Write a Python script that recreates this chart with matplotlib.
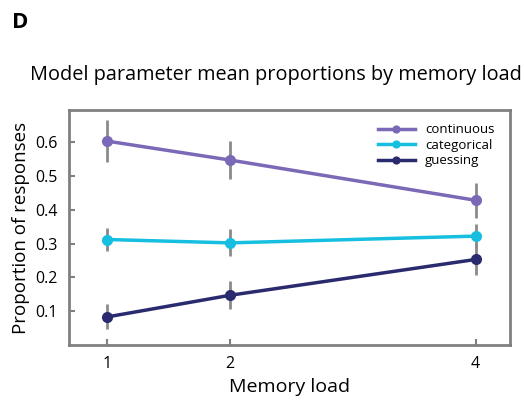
import matplotlib
matplotlib.use('Agg')
import matplotlib.pyplot as plt

# Data
loads = [1, 2, 4]
continuous = [0.603, 0.547, 0.428]
continuous_err = [0.062, 0.057, 0.052]
categorical = [0.312, 0.302, 0.322]
categorical_err = [0.035, 0.040, 0.035]
guessing = [0.083, 0.147, 0.253]
guessing_err = [0.037, 0.042, 0.045]

plt.rcParams['font.family'] = ['Open Sans', 'DejaVu Sans']

fig = plt.figure(figsize=(5.24, 4.05), dpi=100)
ax = fig.add_axes([69 / 524, 1 - 345 / 405, (510 - 69) / 524, (345 - 110) / 405])

series = [
    ('continuous', continuous, continuous_err, '#7b68b6'),
    ('categorical', categorical, categorical_err, '#16bfe0'),
    ('guessing', guessing, guessing_err, '#2a2a6e'),
]
for label, vals, errs, color in series:
    ax.errorbar(loads, vals, yerr=errs, fmt='none', ecolor='#8a8a8a', elinewidth=2,
                capsize=0, zorder=1)
    ax.plot(loads, vals, '-o', color=color, lw=2.5, ms=7, label=label, zorder=2)

ax.set_xlim(0.69, 4.28)
ax.set_ylim(0, 0.695)
ax.set_xticks(loads)
ax.set_xticklabels(['1', '2', '4'])
ax.set_yticks([0.1, 0.2, 0.3, 0.4, 0.5, 0.6])
ax.tick_params(direction='in', color='#808080', width=1.5, length=4, labelsize=11.5, pad=8)
for sp in ax.spines.values():
    sp.set_color('#808080')
    sp.set_linewidth(2)

ax.set_xlabel('Memory load', fontsize=14)
ax.set_ylabel('Proportion of responses', fontsize=13.5)
fig.text(276 / 524, 1 - 75 / 405, 'Model parameter mean proportions by memory load',
         fontsize=14.3, ha='center', va='center')

leg = ax.legend(loc='upper right', frameon=False, fontsize=9.5, handlelength=2.8,
                markerscale=0.7, borderaxespad=0.6, labelspacing=0.2,
                bbox_to_anchor=(0.995, 1.0))

fig.text(12 / 524, 1 - 22 / 405, 'D', fontsize=16, fontweight='bold', va='center')

fig.savefig('out.png', dpi=100)
